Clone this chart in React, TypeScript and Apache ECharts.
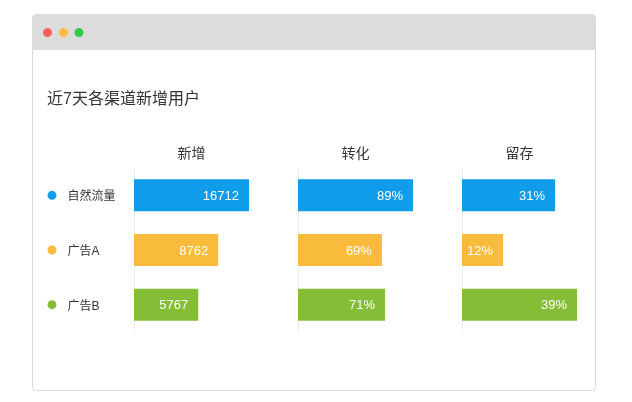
import {useEffect, useRef} from 'react';
import * as echarts from 'echarts';

const title = '近7天各渠道新增用户';
const channels = ['自然流量', '广告A', '广告B'];
const channelColors = ['#0f9cea', '#f9bb3b', '#85bd37'];
const metrics = ['新增', '转化', '留存'];

const newUsers = [16712, 8762, 5767];
const conversion = [89, 69, 71];
const retention = [31, 12, 39];

const FONT = '"Liberation Sans", "Noto Sans CJK SC", sans-serif';

const GRID_LEFTS = [134, 298, 462];
const GRID_WIDTH = 115;
const GRID_TOP = 168;
const GRID_HEIGHT = 164;

function buildOption(): echarts.EChartsCoreOption {
    const columns = [
        {values: newUsers, suffix: '', axis: {type: 'log', min: 1500, max: 16712, startValue: 1500}},
        {values: conversion, suffix: '%', axis: {type: 'value', min: 15, max: 89, startValue: 15}},
        {values: retention, suffix: '%', axis: {type: 'value', min: -3, max: 39, startValue: -3}}
    ];

    const dotRich: Record<string, object> = {};
    channelColors.forEach((c, i) => {
        dotRich['d' + i] = {width: 9, height: 9, borderRadius: 4.5, backgroundColor: c};
    });

    return {
        animation: false,
        textStyle: {fontFamily: FONT},
        title: {
            text: title,
            left: 47,
            top: 89,
            padding: 0,
            textStyle: {fontSize: 16, fontWeight: 'normal', color: '#333', lineHeight: 18, fontFamily: FONT}
        },
        graphic: [
            {
                type: 'rect', z: -10,
                shape: {x: 32.5, y: 14.5, width: 563, height: 376, r: 3},
                style: {fill: '#fff', stroke: '#dadada', lineWidth: 1}
            },
            {
                type: 'rect', z: -9,
                shape: {x: 33, y: 15, width: 562, height: 35, r: [3, 3, 0, 0]},
                style: {fill: '#dcdcdc'}
            },
            {type: 'circle', z: -8, shape: {cx: 47.5, cy: 32.5, r: 4.5}, style: {fill: '#fc605c'}},
            {type: 'circle', z: -8, shape: {cx: 63.5, cy: 32.5, r: 4.5}, style: {fill: '#fdbc40'}},
            {type: 'circle', z: -8, shape: {cx: 79, cy: 32.5, r: 4.5}, style: {fill: '#34c84a'}}
        ],
        grid: GRID_LEFTS.map(left => ({left, top: GRID_TOP, width: GRID_WIDTH, height: GRID_HEIGHT})),
        xAxis: columns.map((col, i) => ({
            ...col.axis,
            gridIndex: i,
            position: 'top',
            name: metrics[i],
            nameLocation: 'middle',
            nameGap: 8,
            nameTextStyle: {fontSize: 14, color: '#333', fontFamily: FONT},
            axisLine: {show: false},
            axisTick: {show: false},
            axisLabel: {show: false},
            splitLine: {show: false}
        })),
        yAxis: columns.map((_, i) => ({
            type: 'category',
            gridIndex: i,
            inverse: true,
            data: channels,
            axisLine: {show: true, onZero: false, lineStyle: {color: '#ececec'}},
            axisTick: {show: false},
            axisLabel: i === 0 ? {
                show: true,
                align: 'left',
                margin: 86.5,
                formatter: (v: string, idx: number) => `{d${idx}| }{n|${v}}`,
                rich: {
                    ...dotRich,
                    n: {fontSize: 12, color: '#333', padding: [2, 0, 0, 11], fontFamily: FONT}
                }
            } : {show: false}
        })),
        series: columns.map((col, i) => ({
            type: 'bar',
            xAxisIndex: i,
            yAxisIndex: i,
            barWidth: 32,
            clip: true,
            data: col.values.map((v, r) => ({value: v, itemStyle: {color: channelColors[r]}})),
            label: {
                show: true,
                position: 'insideRight',
                distance: 10,
                color: '#fff',
                fontSize: 13,
                fontFamily: FONT,
                formatter: (p: {value: number}) => `${p.value}${col.suffix}`
            }
        }))
    };
}

export default function App() {
    const ref = useRef<HTMLDivElement | null>(null);

    useEffect(() => {
        if (!ref.current) return;
        const chart = echarts.init(ref.current, null, {renderer: 'svg'});
        chart.setOption(buildOption());
        return () => chart.dispose();
    }, []);

    return <div ref={ref} style={{position: 'fixed', left: 0, top: 0, width: 632, height: 402}}/>;
}
